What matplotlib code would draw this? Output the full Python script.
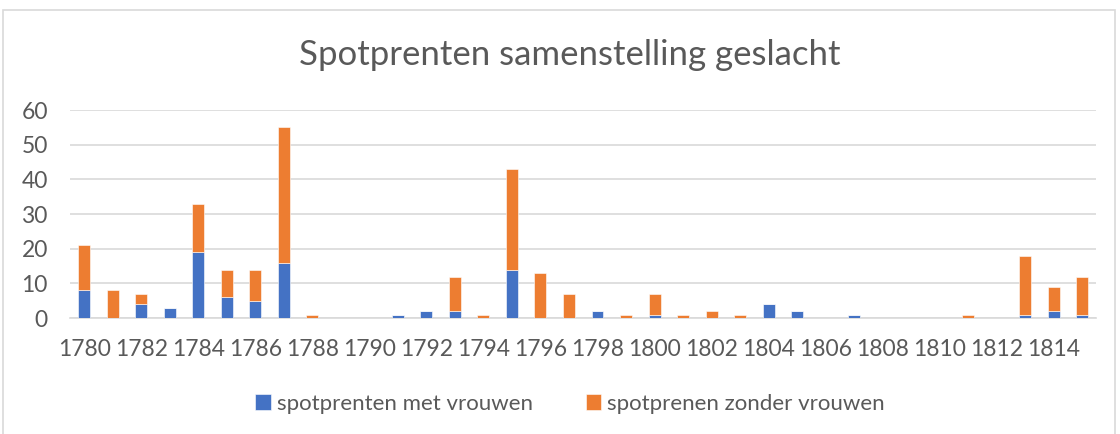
import matplotlib.pyplot as plt
import numpy as np
from matplotlib.patches import Rectangle

plt.rcParams['font.family'] = ['Lato', 'DejaVu Sans']

# Data
years = list(range(1780, 1816))
met_vrouwen = [8, 0, 4, 3, 19, 6, 5, 16, 0, 0,
               0, 1, 2, 2, 0, 14, 0, 0, 2, 0,
               1, 0, 0, 0, 4, 2, 0, 1, 0, 0,
               0, 0, 0, 1, 2, 1]
zonder_vrouwen = [13, 8, 3, 0, 14, 8, 9, 39, 1, 0,
                  0, 0, 0, 10, 1, 29, 13, 7, 0, 1,
                  6, 1, 2, 1, 0, 0, 0, 0, 0, 0,
                  0, 1, 0, 17, 7, 11]

BLUE = "#4472C4"
ORANGE = "#ED7D31"
TEXT = "#595959"
GRID = "#D9D9D9"

fig = plt.figure(figsize=(11.2, 4.34), dpi=100)
ax = fig.add_axes([0.0625, 0.267, 0.9165, 0.4795])

# chart border like the Excel chart area
fig.patches.append(Rectangle((3 / 1120, -0.01), 1112 / 1120, 1 - 10 / 434 + 0.01,
                             transform=fig.transFigure, fill=False,
                             edgecolor=GRID, linewidth=1.2))

x = np.arange(len(years))
width = 0.42
ax.bar(x, met_vrouwen, width, color=BLUE, label="spotprenten met vrouwen",
       edgecolor="#FFFFFF", linewidth=0.4, zorder=3)
ax.bar(x, zonder_vrouwen, width, bottom=met_vrouwen, color=ORANGE,
       label="spotprenen zonder vrouwen", edgecolor="#FFFFFF", linewidth=0.4, zorder=3)

ax.set_xlim(-0.5, len(years) - 0.5)
ax.set_ylim(0, 60)
ax.set_yticks(range(0, 61, 10))
ax.set_xticks(x[::2])
ax.set_xticklabels([str(y) for y in years[::2]])
ax.grid(axis="y", color=GRID, linewidth=1.2, zorder=0)
ax.tick_params(axis="both", length=0, labelsize=16.5, colors=TEXT)
ax.tick_params(axis="x", pad=15)
ax.tick_params(axis="y", pad=16)
for s in ["top", "right", "left"]:
    ax.spines[s].set_visible(False)
ax.spines["bottom"].set_color(GRID)
ax.spines["bottom"].set_linewidth(1.2)

fig.text(0.509, 0.873, "Spotprenten samenstelling geslacht", ha="center",
         va="center", fontsize=25, color=TEXT)

fig.legend(loc="center", bbox_to_anchor=(0.509, 0.07), ncol=2, frameon=False,
           fontsize=16, labelcolor=TEXT, handlelength=0.7, handleheight=0.7,
           handletextpad=0.25, columnspacing=2.4)

fig.savefig("out.png", dpi=100)
